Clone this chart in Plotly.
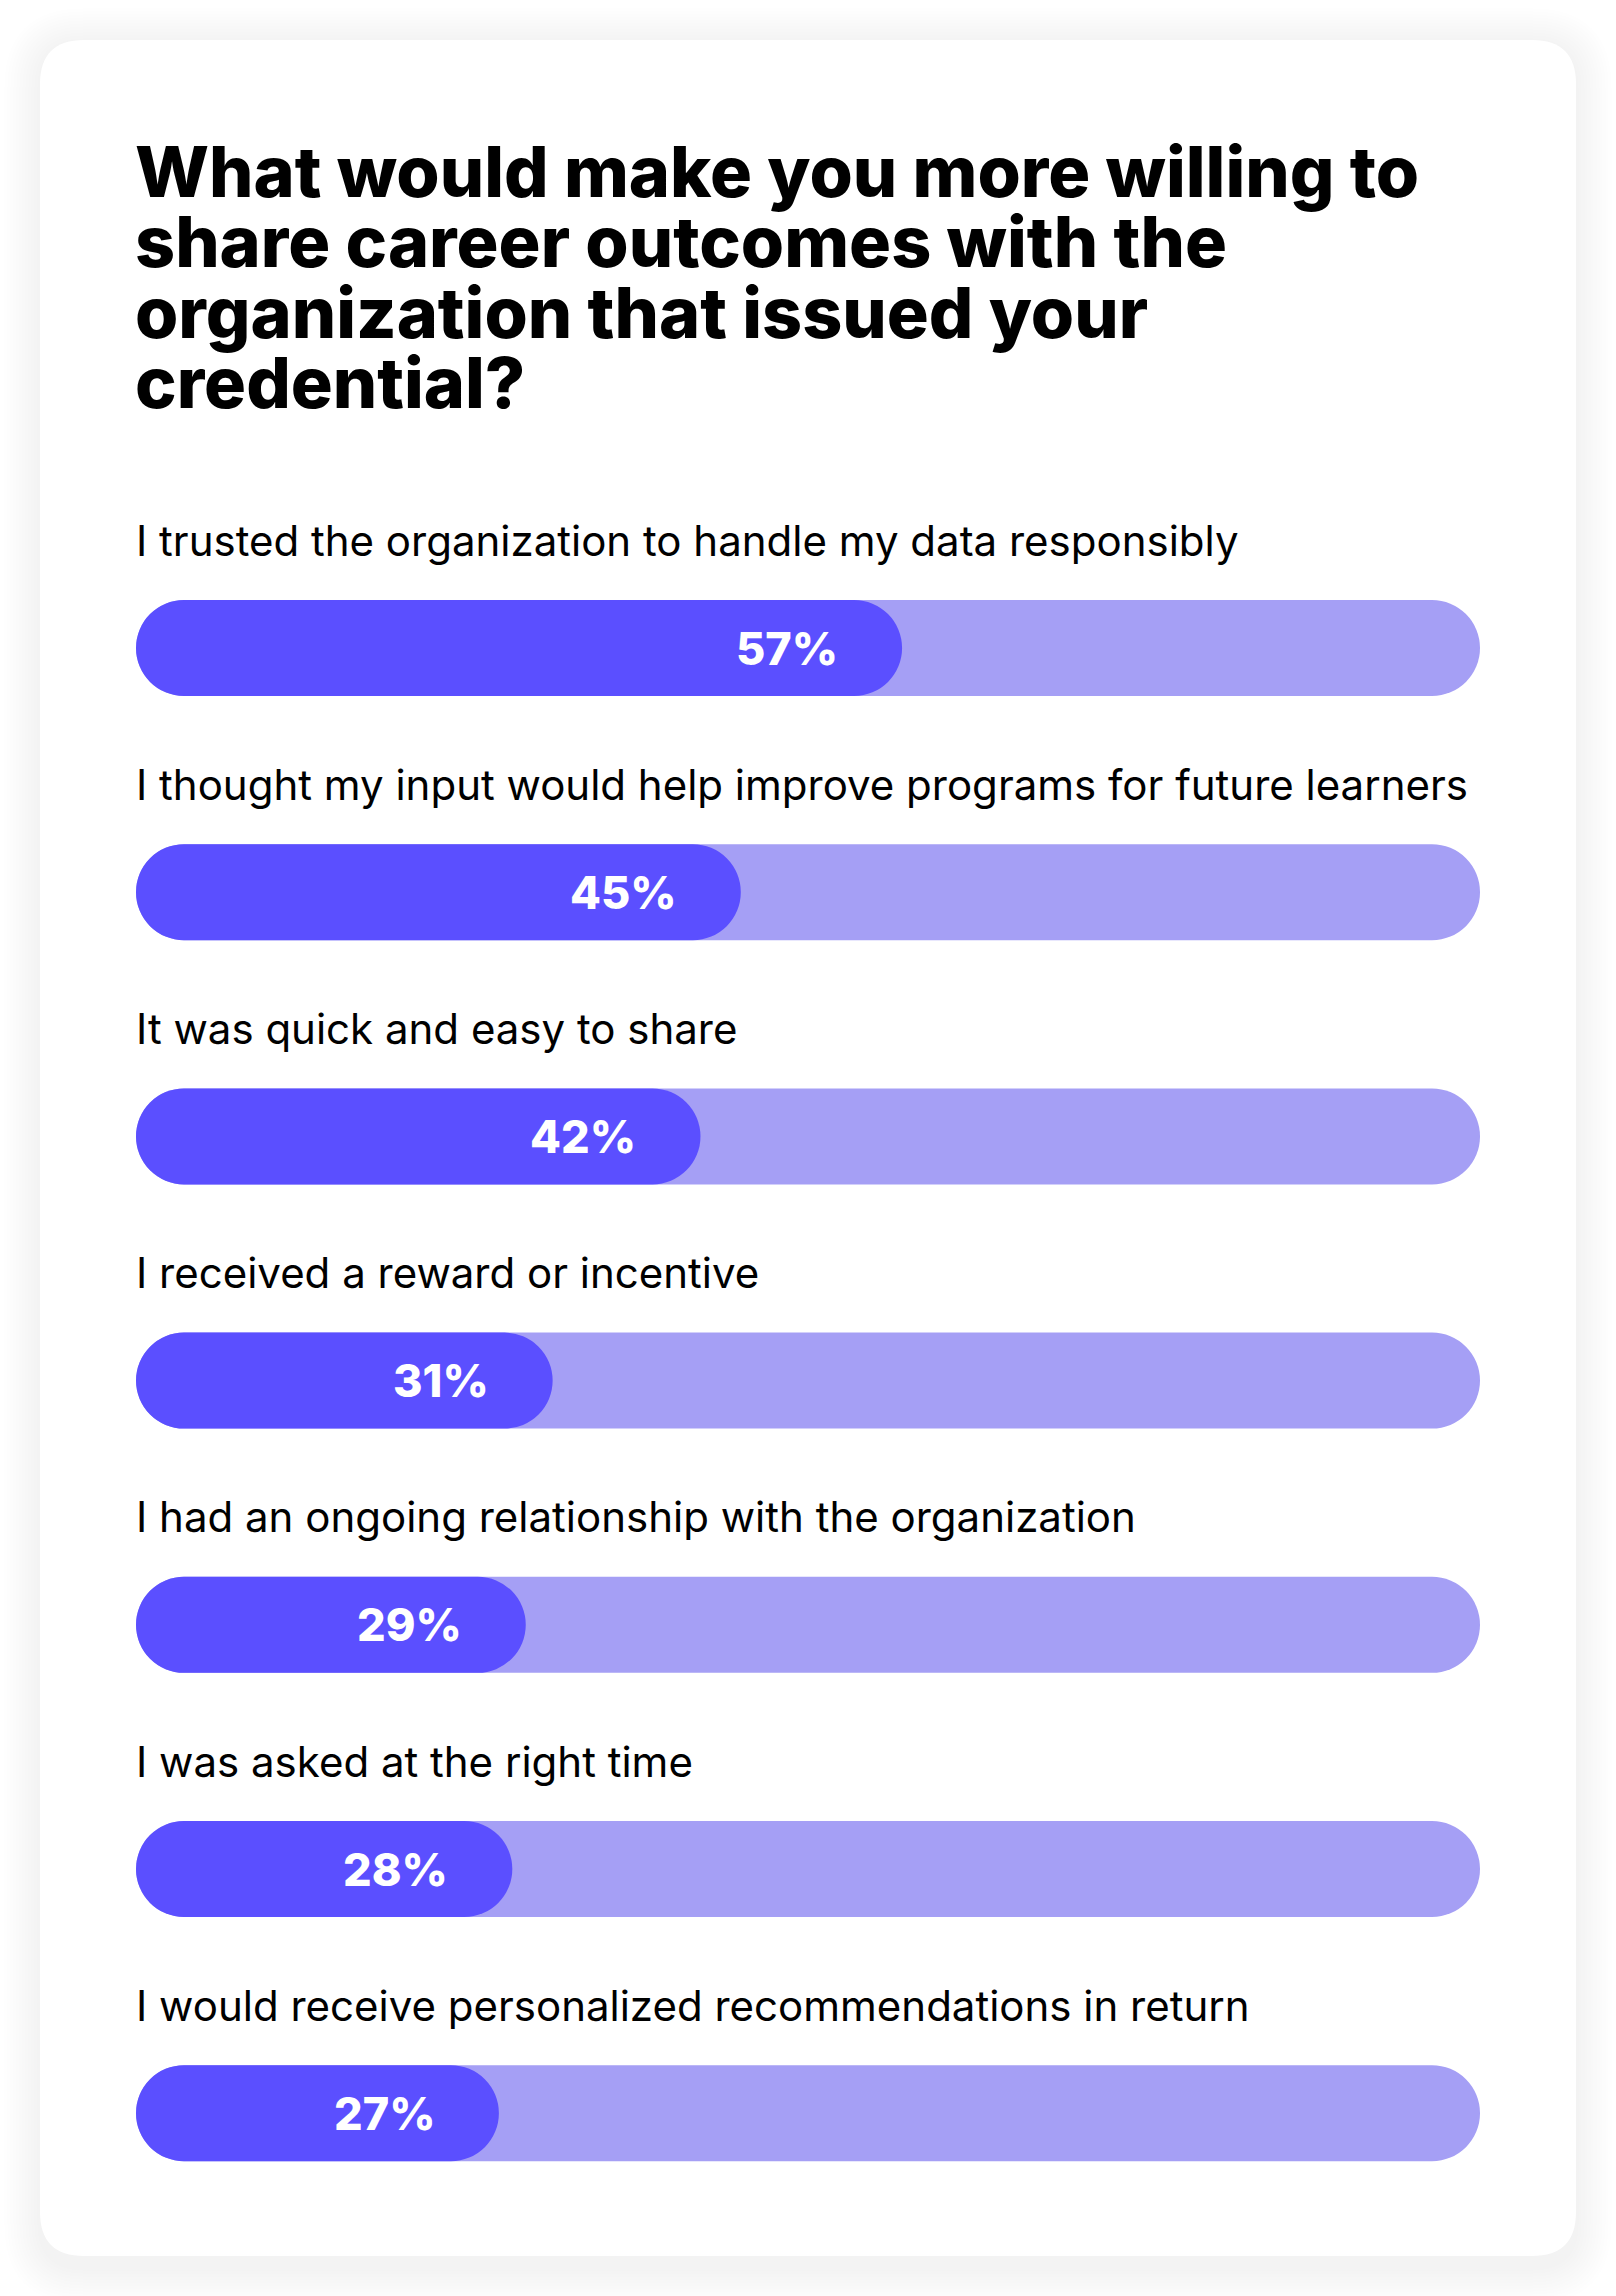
import plotly.graph_objects as go

# ---- data ----
categories = [
    "I trusted the organization to handle my data responsibly",
    "I thought my input would help improve programs for future learners",
    "It was quick and easy to share",
    "I received a reward or incentive",
    "I had an ongoing relationship with the organization",
    "I was asked at the right time",
    "I would receive personalized recommendations in return",
]
values = [57, 45, 42, 31, 29, 28, 27]
full_values = [100] * len(categories)
title_lines = [
    "What would make you more willing to",
    "share career outcomes with the",
    "organization that issued your",
    "credential?",
]

# ---- style ----
W, H = 1616, 2296
DARK = "#5B4FFF"
LIGHT = "#A59FF5"
FONT = "Inter"

x0_px, x1_px = 136, 1480
first_c, step = 648.0, 244.2
bar_px = 96

y_top = -first_c / step
y_bot = (H - first_c) / step
bar_w = bar_px / step

ypos = list(range(len(categories)))
zeros = [0] * len(categories)
fig = go.Figure()
fig.add_trace(go.Bar(
    y=ypos, x=full_values, base=zeros, orientation="h",
    marker=dict(color=LIGHT, line=dict(width=0)), width=bar_w,
    hoverinfo="skip", showlegend=False,
))
fig.add_trace(go.Bar(
    y=ypos, x=values, base=zeros, orientation="h",
    marker=dict(color=DARK, line=dict(width=0)), width=bar_w,
    hovertemplate="%{x}%<extra></extra>", showlegend=False,
))

# ---- card with soft shadow ----
def rrect(x0, y0, x1, y1, r):
    def P(x, y):
        return f"{x / W:.6f},{1 - y / H:.6f}"
    return (f"M {P(x0 + r, y0)} L {P(x1 - r, y0)} Q {P(x1, y0)} {P(x1, y0 + r)} "
            f"L {P(x1, y1 - r)} Q {P(x1, y1)} {P(x1 - r, y1)} "
            f"L {P(x0 + r, y1)} Q {P(x0, y1)} {P(x0, y1 - r)} "
            f"L {P(x0, y0 + r)} Q {P(x0, y0)} {P(x0 + r, y0)} Z")

shapes = []
cx0, cy0, cx1, cy1, cr = 40, 40, 1576, 2256, 44
for k in range(12, 0, -1):
    e = k * 3
    shapes.append(dict(
        type="path", xref="paper", yref="paper", layer="below",
        path=rrect(cx0 - e, cy0 - e + 4, cx1 + e, cy1 + e + 12, cr + e),
        fillcolor="rgba(0,0,0,0.0035)", line=dict(width=0),
    ))
shapes.append(dict(
    type="path", xref="paper", yref="paper", layer="below",
    path=rrect(cx0, cy0, cx1, cy1, cr),
    fillcolor="white", line=dict(width=0),
))

annotations = []
for i, t in enumerate(title_lines):
    annotations.append(dict(
        text=t, xref="paper", yref="paper",
        x=(x0_px - 3) / W, y=1 - (172 + 70 * i) / H,
        xanchor="left", yanchor="middle", showarrow=False,
        font=dict(family=FONT, size=70, color="#000000", weight=800),
    ))
for i, c in enumerate(categories):
    annotations.append(dict(
        text=c, xref="x", yref="y", x=0, y=i, yshift=108, xshift=-2,
        xanchor="left", yanchor="middle", showarrow=False,
        font=dict(family=FONT, size=42, color="#000000", weight=400),
    ))
    annotations.append(dict(
        text=f"{values[i]}%", xref="x", yref="y", x=values[i], y=i, xshift=-62,
        xanchor="right", yanchor="middle", showarrow=False,
        font=dict(family=FONT, size=45, color="#FFFFFF", weight=800),
    ))

fig.update_layout(
    width=W, height=H,
    margin=dict(l=0, r=0, t=0, b=0),
    paper_bgcolor="white", plot_bgcolor="rgba(0,0,0,0)",
    barmode="overlay", barcornerradius="50%",
    xaxis=dict(domain=[x0_px / W, x1_px / W], range=[0, 100], visible=False, fixedrange=True),
    yaxis=dict(domain=[0, 1], range=[y_bot, y_top], visible=False, fixedrange=True),
    shapes=shapes, annotations=annotations,
    font=dict(family=FONT),
)

fig.write_html("out.html", config={"displayModeBar": False},
               post_script="document.body.style.margin='0';")
